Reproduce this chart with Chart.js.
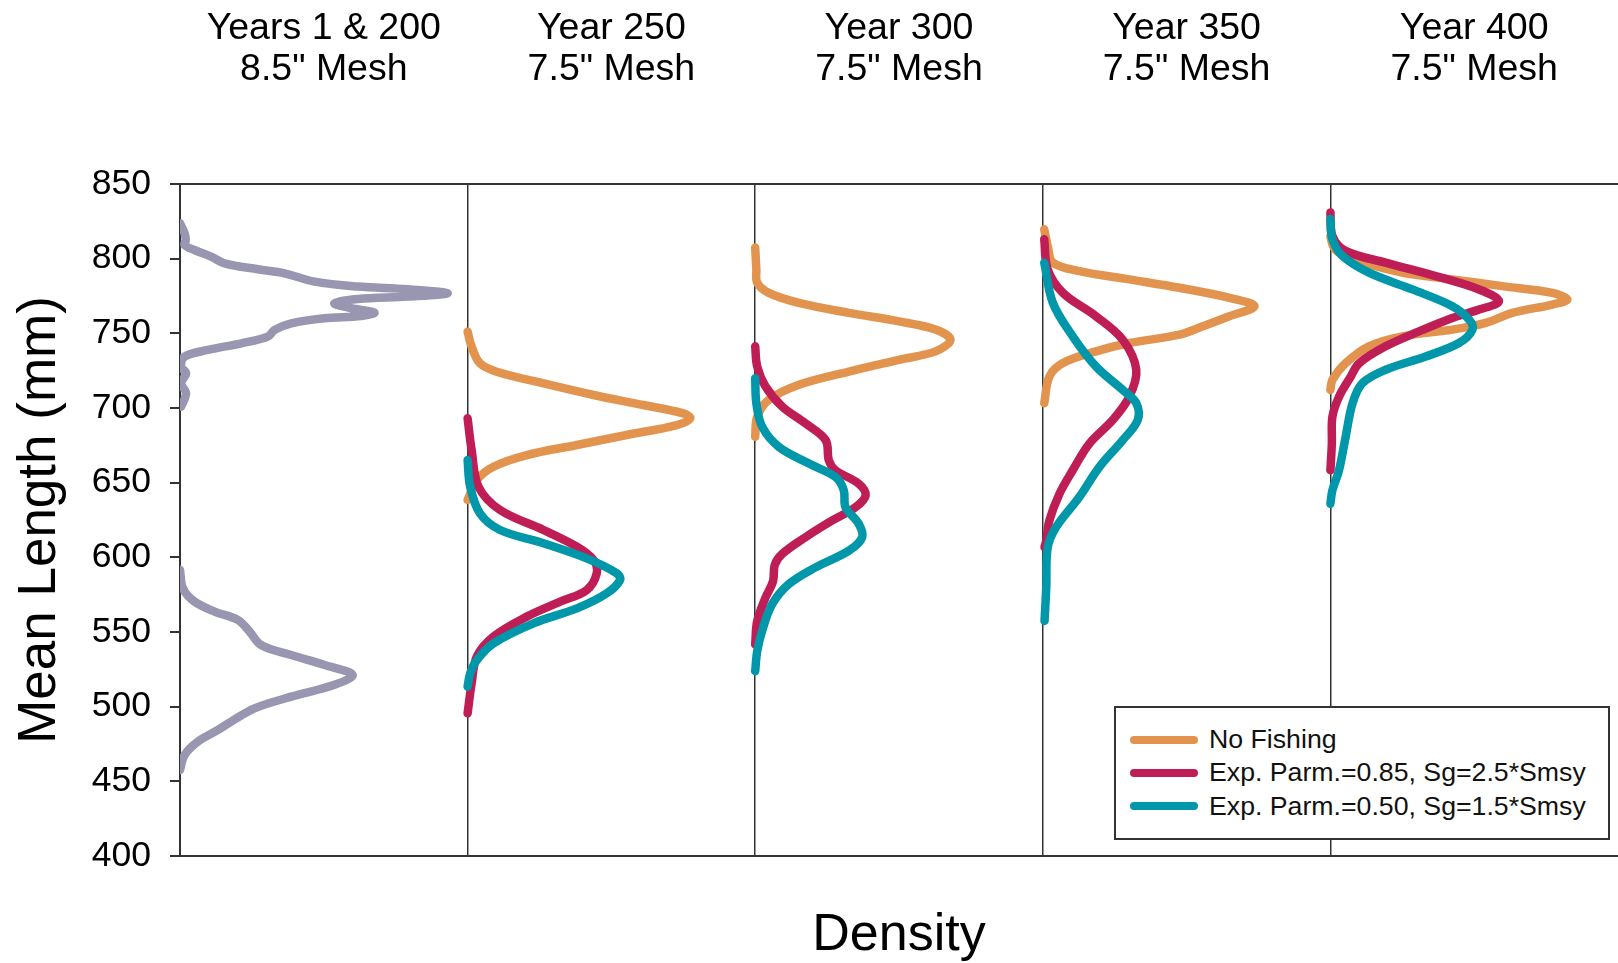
<!DOCTYPE html>
<html>
<head>
<meta charset="utf-8">
<script src="https://cdn.jsdelivr.net/npm/chart.js@4/dist/chart.umd.min.js"></script>
<style>
html,body{margin:0;padding:0;background:#fff;}
#wrap{position:relative;width:1618px;height:963px;overflow:hidden;}
#legend{position:absolute;left:1114px;top:706px;width:492px;height:130px;border:2px solid #333;background:#fff;
  font-family:"Liberation Sans",Arial,sans-serif;font-size:26.7px;color:#111;}
.row{position:absolute;left:0;height:33px;display:flex;align-items:center;white-space:nowrap;}
.swatch{width:68px;height:8px;border-radius:4px;margin-left:14px;margin-right:11px;}
</style>
</head>
<body>
<div id="wrap">
<canvas id="c" width="1618" height="963"></canvas>
<div id="legend"></div>
</div>
<script>
// ---------- data ----------
const panelTitles = [
  ["Years 1 & 200", "8.5\" Mesh"],
  ["Year 250", "7.5\" Mesh"],
  ["Year 300", "7.5\" Mesh"],
  ["Year 350", "7.5\" Mesh"],
  ["Year 400", "7.5\" Mesh"]
];
const seriesNames = ["No Fishing", "Exp. Parm.=0.85, Sg=2.5*Smsy", "Exp. Parm.=0.50, Sg=1.5*Smsy"];
const yTicks = [400, 450, 500, 550, 600, 650, 700, 750, 800, 850];

// each curve: [density (fraction of panel width), mean length (mm)]
// Years 1 & 200 (8.5" mesh)
const baseUpper = [[0,823.7],[0.016,817],[0.02,812.5],[0.016,809.2],[0.05,805.8],[0.108,801.4],[0.155,796.9],[0.271,792.9],[0.363,790.2],[0.468,784.6],[0.618,781.3],[0.792,779.5],[0.931,776.8],[0.792,774.6],[0.618,773],[0.537,770.1],[0.595,766.8],[0.676,763.9],[0.63,761.6],[0.502,760.1],[0.387,756.7],[0.329,752.3],[0.305,747.8],[0.213,743.3],[0.097,738.9],[0.016,734.4],[0.004,727.7],[0.021,723.2],[0.004,716.5],[0.021,709.8],[0.004,700.9]];
const baseLower = [[0,591.6],[0.01,579.3],[0.05,570.4],[0.12,563.7],[0.201,558.1],[0.242,550.3],[0.282,541.3],[0.387,534.6],[0.503,527.9],[0.6,521.3],[0.537,514.6],[0.387,506.7],[0.259,498.9],[0.178,490],[0.132,484.4],[0.062,476.6],[0.016,467.7],[0,457.6]];

// Year 250
const noFishing250 = [[0,751.1],[0.014,741.1],[0.043,729.9],[0.101,724.3],[0.264,716.5],[0.438,708.7],[0.611,702],[0.75,696.4],[0.774,693.1],[0.727,688.6],[0.553,681.9],[0.38,675.2],[0.206,668.5],[0.09,660.7],[0.032,651.8],[0,638.4]];
const exp85_250 = [[0,693.1],[0.014,671.9],[0.038,647.3],[0.113,631.7],[0.264,618.3],[0.38,607.1],[0.438,598.2],[0.449,589.3],[0.414,578.1],[0.322,570.3],[0.206,560.3],[0.09,546.9],[0.032,533.5],[0.014,515.6],[0,495.5]];
const exp50_250 = [[0,665.2],[0.009,647.3],[0.043,629.4],[0.113,618.3],[0.264,609.4],[0.414,599.3],[0.519,589.3],[0.53,584.8],[0.484,575.9],[0.38,565.8],[0.229,555.8],[0.09,542.4],[0.032,531.2],[0.009,522.3],[0,513.4]];

// Year 300
const noFishing300 = [[0,807.4],[0.004,792.8],[0.007,783.9],[0.047,777.1],[0.152,770.4],[0.326,763.7],[0.5,758],[0.627,752.5],[0.679,745.7],[0.627,737.9],[0.5,732.3],[0.326,724.4],[0.152,715.5],[0.047,705.4],[0.007,694.2],[0,680.7]];
const exp85_300 = [[0,741.3],[0.007,727.8],[0.036,714.4],[0.094,700.9],[0.175,689.7],[0.245,678.5],[0.256,665],[0.279,658.3],[0.36,649.3],[0.384,641.5],[0.349,633.6],[0.268,624.7],[0.175,613.5],[0.094,602.3],[0.068,595],[0.062,584],[0.036,573.1],[0.007,557.4],[0,541.7]];
const exp50_300 = [[0,720],[0.004,703.2],[0.024,687.5],[0.082,674],[0.187,662.8],[0.279,653.8],[0.308,644.9],[0.314,633.6],[0.36,622.4],[0.372,613.5],[0.326,604.5],[0.21,593.3],[0.117,582.1],[0.059,568.6],[0.024,550.7],[0.007,537.2],[0,523.8]];

// Year 350
const noFishing350 = [[0.005,819.7],[0.017,808.5],[0.035,797.3],[0.127,791.7],[0.301,786.1],[0.475,780.5],[0.649,773.8],[0.736,768.2],[0.649,761.4],[0.556,754.7],[0.475,749.1],[0.301,743.5],[0.185,737.9],[0.07,730.1],[0.023,721.1],[0.005,703.2]];
const exp85_350 = [[0.005,813],[0.017,792.8],[0.07,777.1],[0.185,761.4],[0.278,745.7],[0.325,725.6],[0.301,707.6],[0.243,691.9],[0.162,676.2],[0.104,658.3],[0.058,642.6],[0.023,624.7],[0.012,611.2],[0.006,606.7]];
const exp50_350 = [[0.005,797.3],[0.035,770.4],[0.104,748],[0.185,727.8],[0.278,712.1],[0.325,703.2],[0.33,691.9],[0.278,678.5],[0.197,660.6],[0.127,640.4],[0.046,620.2],[0.017,606.7],[0.012,579.8],[0.006,557.4]];

// Year 400
const noFishing400 = [[0,815],[0.01,808],[0.03,804],[0.076,799.6],[0.25,790.6],[0.424,786.1],[0.598,781.6],[0.772,777.1],[0.824,772.6],[0.772,769.3],[0.633,763.7],[0.54,757],[0.424,752.5],[0.25,748],[0.134,741.3],[0.053,730],[0.007,718.8],[0,712.1]];
const exp85_400 = [[0,831],[0.007,815.2],[0.053,805.2],[0.192,797.3],[0.366,788.3],[0.517,779.4],[0.586,771.5],[0.517,765.9],[0.424,760.3],[0.308,751.3],[0.192,741.3],[0.1,730],[0.071,721.1],[0.03,707.6],[0.007,694.2],[0.005,676.2],[0,658.3]];
const exp50_400 = [[0,826.5],[0.007,813],[0.042,801.8],[0.134,790.6],[0.285,779.4],[0.424,768.2],[0.482,759.2],[0.494,752.5],[0.447,743.5],[0.331,734.5],[0.192,725.6],[0.111,716.6],[0.077,703.2],[0.053,680.7],[0.03,658.3],[0.007,644.9],[0,635.9]];

const baseColor = "#9896B0";
const seriesColors = ["#E2944F", "#BE1E55", "#0097AA"];

// ---------- build ----------
const FONT = '"Liberation Sans", Arial, Helvetica, sans-serif';
const GAP = {x: null, y: null};
function toPoints(panel, pairs) { return pairs.map(p => ({x: panel + p[0], y: p[1]})); }
function joinPanels(curves) {
  const out = [];
  curves.forEach((c, i) => { if (i) out.push(GAP); out.push(...toPoints(c.panel, c.data)); });
  return out;
}
const seriesCurves = [
  [noFishing250, noFishing300, noFishing350, noFishing400],
  [exp85_250, exp85_300, exp85_350, exp85_400],
  [exp50_250, exp50_300, exp50_350, exp50_400]
];
const lineStyle = {showLine: true, pointRadius: 0, borderWidth: 8.5, tension: 0.35,
  borderCapStyle: 'round', borderJoinStyle: 'round', spanGaps: false, fill: false};

const datasets = [
  Object.assign({label: 'Years 1 & 200', data: joinPanels([{panel: 0, data: baseUpper}, {panel: 0, data: baseLower}]),
    borderColor: baseColor, backgroundColor: baseColor, order: 3}, lineStyle)
];
seriesNames.forEach((name, s) => {
  datasets.push(Object.assign({
    label: name,
    data: joinPanels(seriesCurves[s].map((d, i) => ({panel: i + 1, data: d}))),
    borderColor: seriesColors[s], backgroundColor: seriesColors[s], order: 2 - s
  }, lineStyle));
});

const panelCenters = panelTitles.map((t, i) => i + 0.5);

new Chart(document.getElementById('c'), {
  type: 'scatter',
  data: {datasets},
  options: {
    responsive: false,
    animation: false,
    layout: {padding: 0},
    plugins: {legend: {display: false}, tooltip: {enabled: false}},
    scales: {
      x: {
        type: 'linear', position: 'bottom', min: 0, max: panelTitles.length,
        ticks: {display: false, stepSize: 1},
        grid: {drawTicks: false, lineWidth: 1.5,
          color: c => (c.tick && c.tick.value > 0 && c.tick.value < panelTitles.length) ? '#333' : 'rgba(0,0,0,0)'},
        border: {display: true, color: '#333', width: 2},
        title: {display: true, text: 'Density', color: '#000', padding: 0,
          font: {family: FONT, size: 52, lineHeight: 1.06}},
        afterFit: s => { s.height = 107; s.paddingLeft = 0; s.paddingRight = 0; }
      },
      x2: {
        type: 'linear', position: 'top', min: 0, max: panelTitles.length,
        afterBuildTicks: s => { s.ticks = panelCenters.map(v => ({value: v})); },
        ticks: {autoSkip: false, maxRotation: 0, minRotation: 0, padding: 94, color: '#000',
          font: {family: FONT, size: 37.5, lineHeight: 1.09},
          callback: (v, i) => panelTitles[i]},
        grid: {display: false, drawTicks: false},
        border: {display: true, color: '#333', width: 2},
        afterFit: s => { s.height = 184; s.paddingLeft = 0; s.paddingRight = 0; }
      },
      y: {
        type: 'linear', position: 'left', min: yTicks[0], max: yTicks[yTicks.length - 1],
        afterBuildTicks: s => { s.ticks = yTicks.map(v => ({value: v})); },
        ticks: {padding: 19, color: '#000', font: {family: FONT, size: 35.5}},
        grid: {drawOnChartArea: false, drawTicks: true, tickLength: 10, color: '#333', lineWidth: 2},
        border: {display: true, color: '#333', width: 2},
        title: {display: true, text: 'Mean Length (mm)', color: '#000', padding: {top: 9, bottom: 0},
          font: {family: FONT, size: 53, lineHeight: 1.2}},
        afterFit: s => { s.width = 180; }
      }
    }
  }
});

// ---------- legend (from series) ----------
const legend = document.getElementById('legend');
seriesNames.forEach((name, i) => {
  const row = document.createElement('div');
  row.className = 'row';
  row.style.top = (15 + i * 33.3) + 'px';
  const sw = document.createElement('span');
  sw.className = 'swatch';
  sw.style.background = seriesColors[i];
  const tx = document.createElement('span');
  tx.textContent = name;
  row.appendChild(sw); row.appendChild(tx);
  legend.appendChild(row);
});
</script>
</body>
</html>
